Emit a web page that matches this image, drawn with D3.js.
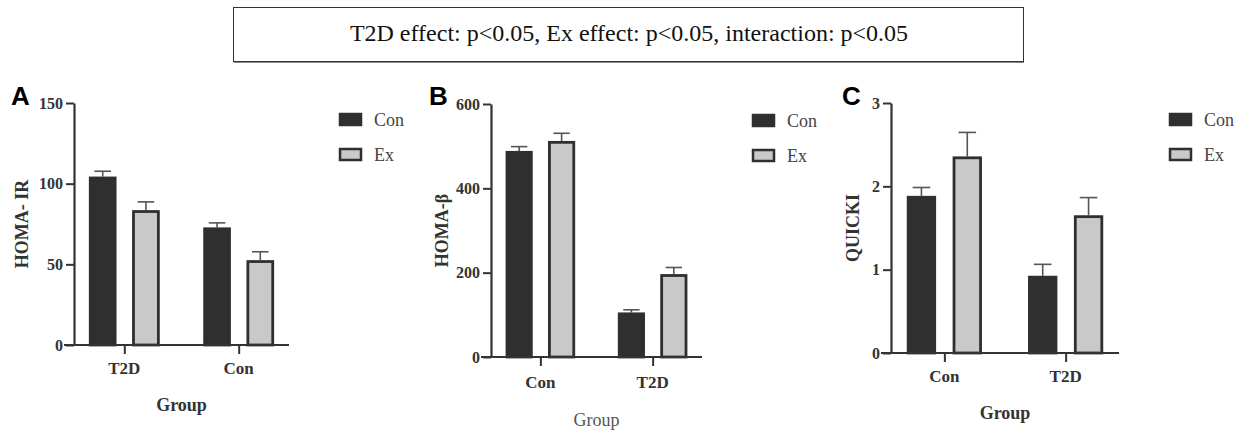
<!DOCTYPE html>
<html>
<head>
<meta charset="utf-8">
<script src="https://cdn.jsdelivr.net/npm/d3@7"></script>
<style>
  body { margin: 0; background: #fff; }
  svg text { font-family: "Liberation Serif", "Times New Roman", serif; fill: #222; }
</style>
</head>
<body>
<svg id="chart" width="1247" height="431"></svg>
<script>
// data
const seriesNames = ["Con", "Ex"]

const groupsA = ["T2D", "Con"]
const conA = [104.4, 72.9]
const exA = [83.6, 52.6]
const conTopA = [107.7, 75.7]
const exTopA = [88.7, 57.8]
const ticksA = [0, 50, 100, 150]

const groupsB = ["Con", "T2D"]
const conB = [488.7, 105.7]
const exB = [512.4, 196.6]
const conTopB = [498.9, 112]
const exTopB = [530.6, 212.3]
const ticksB = [0, 200, 400, 600]

const groupsC = ["Con", "T2D"]
const conC = [1.886, 0.927]
const exC = [2.359, 1.653]
const conTopC = [1.986, 1.064]
const exTopC = [2.647, 1.865]
const ticksC = [0, 1, 2, 3]

const titleText = "T2D effect: p<0.05, Ex effect: p<0.05, interaction: p<0.05"

let svg = d3.select("#chart")

// title box
svg.append("rect").attr("x", 233.5).attr("y", 7.5).attr("width", 790).attr("height", 54)
  .attr("fill", "none").attr("stroke", "#333").attr("stroke-width", 1)
svg.append("line").attr("x1", 234).attr("x2", 1024).attr("y1", 62.5).attr("y2", 62.5)
  .attr("stroke", "#888").attr("stroke-width", 1)
svg.append("text").attr("x", 629).attr("y", 41).attr("text-anchor", "middle")
  .style("font-size", "24px").style("fill", "#111").text(titleText)

let panels = [
  { letter: "A", groups: groupsA, con: conA, ex: exA, conTop: conTopA, exTop: exTopA, ticks: ticksA,
    yLabel: "HOMA- IR", x0: 74, x1: 289, y0: 103, y1: 345, letterX: 11, labelX: 22,
    catY: 374, groupY: 411, groupBold: true },
  { letter: "B", groups: groupsB, con: conB, ex: exB, conTop: conTopB, exTop: exTopB, ticks: ticksB,
    yLabel: "HOMA-β", x0: 491, x1: 702, y0: 104, y1: 357, letterX: 429, labelX: 442,
    catY: 388, groupY: 426, groupBold: false },
  { letter: "C", groups: groupsC, con: conC, ex: exC, conTop: conTopC, exTop: exTopC, ticks: ticksC,
    yLabel: "QUICKI", x0: 891, x1: 1119, y0: 103, y1: 353, letterX: 842, labelX: 853,
    catY: 382, groupY: 419, groupBold: true }
]

let colors = { Con: "#2f2f2f", Ex: "#c9c9c9" }

panels.forEach(function (p) {
  let g = svg.append("g")

  let yScale = d3.scaleLinear()
    .domain([0, d3.max(p.ticks)])
    .range([p.y1, p.y0])

  let xScale = d3.scalePoint()
    .domain(p.groups)
    .range([p.x0, p.x1])
    .padding(0.44)

  let groupWidth = xScale.step() * 0.62
  let inner = d3.scaleBand()
    .domain(seriesNames)
    .range([-groupWidth / 2, groupWidth / 2])
    .paddingInner(0.36)

  let rows = []
  p.groups.forEach(function (grp, i) {
    rows.push({ group: grp, series: "Con", value: p.con[i], top: p.conTop[i] })
    rows.push({ group: grp, series: "Ex", value: p.ex[i], top: p.exTop[i] })
  })

  // error bars (upper only)
  let capW = inner.bandwidth() * 0.6
  let cx = d => xScale(d.group) + inner(d.series) + inner.bandwidth() / 2
  let err = g.append("g").selectAll("g").data(rows).join("g")
  err.append("line")
    .attr("x1", cx).attr("x2", cx)
    .attr("y1", d => yScale(d.value))
    .attr("y2", d => yScale(d.top))
    .attr("stroke", "#555").attr("stroke-width", 1.6)
  err.append("line")
    .attr("x1", d => cx(d) - capW / 2)
    .attr("x2", d => cx(d) + capW / 2)
    .attr("y1", d => yScale(d.top))
    .attr("y2", d => yScale(d.top))
    .attr("stroke", "#555").attr("stroke-width", 1.6)

  // bars
  g.append("g").selectAll("rect").data(rows).join("rect")
    .attr("x", d => xScale(d.group) + inner(d.series) + 1.4)
    .attr("width", inner.bandwidth() - 2.8)
    .attr("y", d => yScale(d.value) + 1.4)
    .attr("height", d => yScale(0) - yScale(d.value) - 1.4)
    .attr("fill", d => colors[d.series])
    .attr("stroke", "#2f2f2f").attr("stroke-width", 2.8)

  // y axis
  let yAxis = d3.axisLeft(yScale).tickValues(p.ticks).tickFormat(d3.format("d"))
    .tickSize(8).tickSizeOuter(0).tickPadding(3)
  let ya = g.append("g").attr("transform", `translate(${p.x0},0)`).call(yAxis)
  ya.select(".domain").attr("stroke", "#333").attr("stroke-width", 2.2)
  ya.selectAll(".tick line").attr("stroke", "#333").attr("stroke-width", 2)
  ya.selectAll(".tick text")
    .style("font-family", "'Liberation Serif', 'Times New Roman', serif")
    .style("font-size", "16px").style("font-weight", "bold").style("fill", "#333")

  // x axis
  let xAxis = d3.axisBottom(xScale).tickSize(9).tickSizeOuter(0).tickFormat("")
  let xa = g.append("g").attr("transform", `translate(0,${p.y1})`).call(xAxis)
  xa.select(".domain").attr("stroke", "#333").attr("stroke-width", 2.2)
    .attr("d", `M${p.x0 - 10},0H${p.x1}`)
  xa.selectAll(".tick line").attr("stroke", "#333").attr("stroke-width", 2)

  // category labels
  g.selectAll(".cat").data(p.groups).join("text")
    .attr("class", "cat")
    .attr("x", d => xScale(d)).attr("y", p.catY)
    .attr("text-anchor", "middle")
    .style("font-size", "17px").style("font-weight", "bold").style("fill", "#333")
    .text(d => d)

  // axis titles
  g.append("text")
    .attr("x", (p.x0 + p.x1) / 2).attr("y", p.groupY)
    .attr("text-anchor", "middle")
    .style("font-size", "18px").style("font-weight", p.groupBold ? "bold" : "normal")
    .style("fill", p.groupBold ? "#333" : "#555")
    .text("Group")

  g.append("text")
    .attr("transform", `translate(${p.labelX + 6},${(p.y0 + p.y1) / 2}) rotate(-90)`)
    .attr("text-anchor", "middle")
    .style("font-size", "18px").style("font-weight", "bold").style("fill", "#333")
    .text(p.yLabel)

  // panel letter
  g.append("text")
    .attr("x", p.letterX).attr("y", 105)
    .style("font-family", "'Liberation Sans', Arial, sans-serif")
    .style("font-size", "26px").style("font-weight", "bold").style("fill", "#000")
    .text(p.letter)

  // legend
  let lg = g.append("g").attr("transform", `translate(${p.x1 + 50},${p.y0 + 10})`)
  seriesNames.forEach(function (s, i) {
    lg.append("rect")
      .attr("x", 1).attr("y", i * 35 + 1).attr("width", 21).attr("height", 11)
      .attr("fill", colors[s]).attr("stroke", "#2f2f2f").attr("stroke-width", 2.5)
    lg.append("text")
      .attr("x", 35).attr("y", i * 35 + 13)
      .style("font-size", "18px").style("fill", "#444")
      .text(s)
  })
})
</script>
</body>
</html>
